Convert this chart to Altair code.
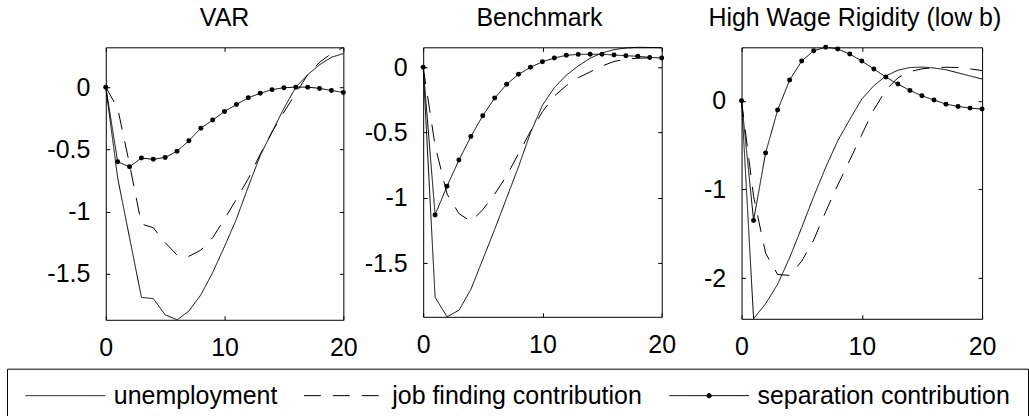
import altair as alt
import pandas as pd

FONT = "Liberation Sans"

T = list(range(21))
SERIES = ["unemployment", "job finding contribution", "separation contribution"]
TITLES = ["VAR", "Benchmark", "High Wage Rigidity (low b)"]

# VAR panel
U_VAR = [0, -0.73, -1.21, -1.69, -1.70, -1.83, -1.87, -1.80, -1.67, -1.49, -1.28,
         -1.06, -0.80, -0.55, -0.36, -0.17, 0.0, 0.10, 0.18, 0.24, 0.27]
J_VAR = [0, -0.17, -0.62, -1.10, -1.13, -1.25, -1.35, -1.36, -1.31, -1.21, -1.06,
         -0.90, -0.735, -0.54, -0.36, -0.20, -0.05, 0.10, 0.20, 0.27, 0.32]
S_VAR = [0, -0.60, -0.64, -0.57, -0.58, -0.565, -0.515, -0.43, -0.33, -0.265, -0.195,
         -0.14, -0.085, -0.05, -0.02, -0.005, 0.0, 0.0, -0.01, -0.027, -0.043]

# Benchmark panel
U_BM = [0, -1.76, -1.91, -1.86, -1.70, -1.47, -1.24, -1.00, -0.76, -0.50, -0.29,
        -0.155, -0.06, 0.01, 0.07, 0.11, 0.135, 0.148, 0.153, 0.152, 0.15]
J_BM = [0, -0.60, -0.97, -1.12, -1.18, -1.09, -0.97, -0.83, -0.66, -0.49, -0.34,
        -0.22, -0.14, -0.08, -0.035, 0.01, 0.045, 0.062, 0.07, 0.072, 0.071]
S_BM = [0, -1.13, -0.91, -0.71, -0.53, -0.37, -0.235, -0.13, -0.053, 0.0, 0.043,
        0.071, 0.092, 0.099, 0.10, 0.10, 0.094, 0.089, 0.084, 0.076, 0.071]

# High wage rigidity panel
U_HW = [0, -2.46, -2.29, -2.07, -1.77, -1.43, -1.08, -0.75, -0.45, -0.21, 0.02,
        0.17, 0.28, 0.345, 0.375, 0.38, 0.37, 0.35, 0.315, 0.28, 0.245]
J_HW = [0, -1.08, -1.72, -1.96, -1.97, -1.81, -1.57, -1.25, -0.95, -0.67, -0.38,
        -0.10, 0.12, 0.26, 0.33, 0.36, 0.375, 0.378, 0.375, 0.36, 0.34]
S_HW = [0, -1.35, -0.59, -0.105, 0.234, 0.448, 0.565, 0.603, 0.584, 0.527, 0.448,
        0.358, 0.268, 0.188, 0.117, 0.056, 0.008, -0.038, -0.064, -0.083, -0.094]

X_TICKS = [0, 10, 20]
Y_TICKS_A = [0, -0.5, -1, -1.5]
Y_TICKS_B = [0, -1, -2]

DOT_PATH = ("M-1,0L1,0M0.055,0A0.055,0.055,0,1,1,-0.055,0"
            "A0.055,0.055,0,1,1,0.055,0Z")

legend = alt.Legend(
    title=None, orient="none", legendX=-99, legendY=322, direction="horizontal",
    symbolType={"expr": "datum.value === 'separation contribution' ? '" + DOT_PATH + "' : 'stroke'"},
    symbolSize=6400, symbolStrokeWidth=1, symbolStrokeColor="black",
    symbolFillColor="black", clipHeight=18,
    labelFont=FONT, labelFontSize=25, labelColor="black", labelOffset=8,
    labelLimit=600, columnPadding=26, padding=18,
    strokeColor="black", fillColor="white",
)


def make_df(u, j, s):
    rows = []
    for name, vals in zip(SERIES, (u, j, s)):
        for t, v in zip(T, vals):
            rows.append({"t": t, "v": v, "series": name})
    return pd.DataFrame(rows)


def panel(title, u, j, s, w, h, yticks, dx):
    df = make_df(u, j, s)
    allv = u + j + s
    xs = alt.Scale(domain=[0, 20], nice=False, zero=False)
    ys = alt.Scale(domain=[min(allv), max(allv)], nice=False, zero=False)
    common = dict(offset=-4, tickSize=4, domain=False, grid=False, title=None)
    base = alt.Chart(df)
    lines = base.mark_line(color="black", strokeWidth=1).encode(
        x=alt.X("t:Q", scale=xs,
                axis=alt.Axis(orient="bottom", values=X_TICKS, labelPadding=16,
                              labelFlush=False, **common)),
        y=alt.Y("v:Q", scale=ys,
                axis=alt.Axis(orient="left", values=yticks, labelPadding=16,
                              labelExpr="datum.value + ''", **common)),
        strokeDash=alt.StrokeDash(
            "series:N", sort=SERIES,
            scale=alt.Scale(domain=SERIES, range=[[1, 0], [17, 12], [1, 0]]),
            legend=legend),
        order=alt.Order("t:Q"),
    )
    dots = base.transform_filter(
        alt.datum.series == SERIES[2]
    ).mark_circle(size=25, color="black", opacity=1).encode(
        x=alt.X("t:Q", scale=xs,
                axis=alt.Axis(orient="top", values=X_TICKS, labels=False, **common)),
        y=alt.Y("v:Q", scale=ys,
                axis=alt.Axis(orient="right", values=yticks, labels=False, **common)),
    )
    return alt.layer(lines, dots).resolve_axis(
        x="independent", y="independent"
    ).properties(width=w, height=h, title=alt.Title(title, dx=dx))


p1 = panel(TITLES[0], U_VAR, J_VAR, S_VAR, 238, 273, Y_TICKS_A, 0)
p2 = panel(TITLES[1], U_BM, J_BM, S_BM, 239, 270, Y_TICKS_A, -3)
p3 = panel(TITLES[2], U_HW, J_HW, S_HW, 241, 272, Y_TICKS_B, -7)

chart = alt.hconcat(p1, p2, p3, spacing=80, bounds="flush").resolve_scale(
    x="independent", y="independent", strokeDash="shared"
).resolve_legend(strokeDash="shared").properties(
    padding={"left": 6, "top": 5, "right": 0, "bottom": 0},
    background="white",
).configure_view(
    stroke="black", strokeWidth=1, fill="white"
).configure_axis(
    labelFont=FONT, labelFontSize=25, labelColor="black",
    tickColor="black", tickWidth=1,
).configure_title(
    font=FONT, fontSize=25, fontWeight="normal", color="black",
    baseline="alphabetic", offset=14, anchor="middle",
)

chart.save("out.html", embed_options={"renderer": "svg", "actions": False})
